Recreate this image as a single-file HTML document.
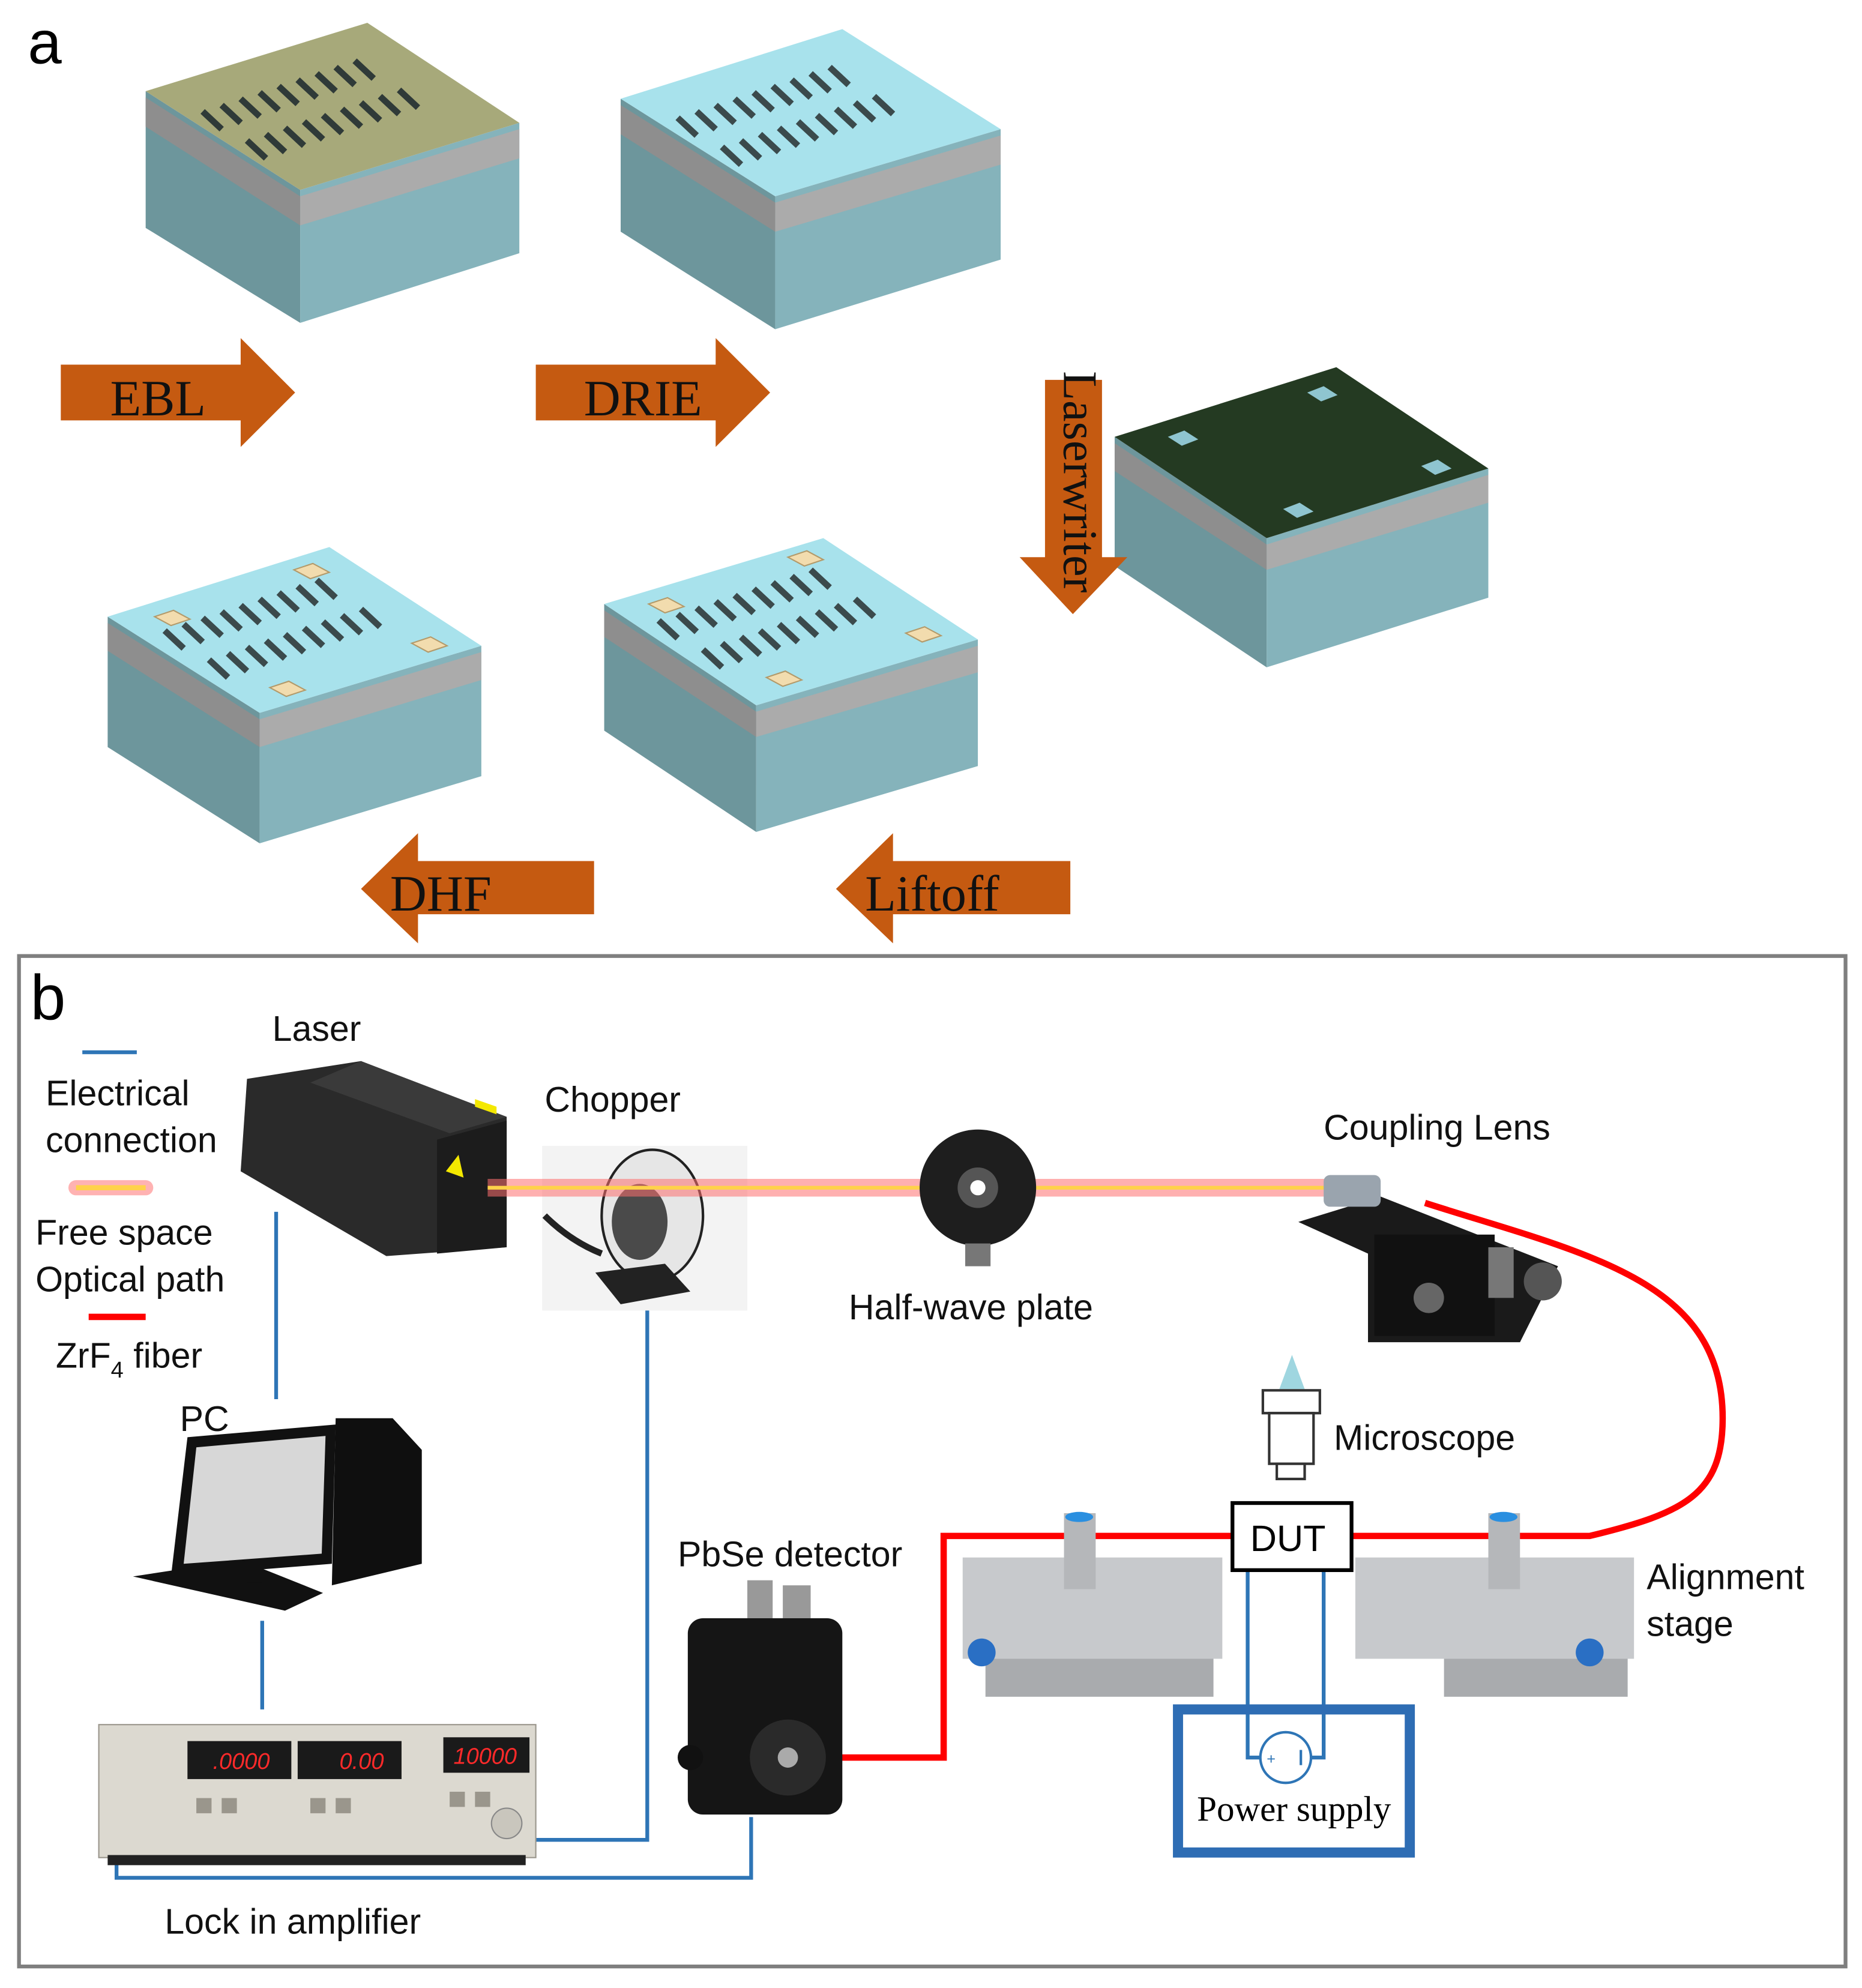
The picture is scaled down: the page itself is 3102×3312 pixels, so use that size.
<!DOCTYPE html>
<html><head><meta charset="utf-8"><style>
html,body{margin:0;padding:0;background:#fff}
svg{display:block}
text{font-family:"Liberation Sans",Arial,sans-serif}
.s{font-family:"Liberation Serif",serif}
</style></head><body>
<svg width="3102" height="3312" viewBox="0 0 1470 1570" preserveAspectRatio="none" xmlns="http://www.w3.org/2000/svg">
<rect width="1470" height="1570" fill="#fff"/>
<text x="22" y="50" font-size="48">a</text>

<!-- Block 1 -->
<g>
<polygon points="115,72 237,150 237,255 115,180" fill="#6d969c"/>
<polygon points="237,150 410,97 410,200 237,255" fill="#85b3bb"/>
<polygon points="115,77 237,155 237,178 115,100" fill="#8e8e8e"/>
<polygon points="237,155 410,102 410,125 237,178" fill="#ababab"/>
<polygon points="115,72 290,18 410,97 237,150" fill="#a7a97a"/>
<g stroke="#2f3a38" stroke-width="5">
<line x1="160" y1="88" x2="175" y2="102"/><line x1="175" y1="83" x2="190" y2="97"/><line x1="190" y1="78" x2="205" y2="92"/><line x1="205" y1="73" x2="220" y2="87"/><line x1="220" y1="68" x2="235" y2="82"/><line x1="235" y1="63" x2="250" y2="77"/><line x1="250" y1="58" x2="265" y2="72"/><line x1="265" y1="53" x2="280" y2="67"/><line x1="280" y1="48" x2="295" y2="62"/>
<line x1="195" y1="111" x2="210" y2="125"/><line x1="210" y1="106" x2="225" y2="120"/><line x1="225" y1="101" x2="240" y2="115"/><line x1="240" y1="96" x2="255" y2="110"/><line x1="255" y1="91" x2="270" y2="105"/><line x1="270" y1="86" x2="285" y2="100"/><line x1="285" y1="81" x2="300" y2="95"/><line x1="300" y1="76" x2="315" y2="90"/><line x1="315" y1="71" x2="330" y2="85"/>
</g>
</g>
<!-- Block 2 -->
<g>
<polygon points="490,78 612,155 612,260 490,183" fill="#6d969c"/>
<polygon points="612,155 790,102 790,205 612,260" fill="#85b3bb"/>
<polygon points="490,83 612,160 612,183 490,106" fill="#8e8e8e"/>
<polygon points="612,160 790,107 790,130 612,183" fill="#ababab"/>
<polygon points="490,78 665,23 790,102 612,155" fill="#a8e2ec"/>
<g stroke="#3b4a4c" stroke-width="5">
<line x1="535" y1="93" x2="550" y2="107"/><line x1="550" y1="88" x2="565" y2="102"/><line x1="565" y1="83" x2="580" y2="97"/><line x1="580" y1="78" x2="595" y2="92"/><line x1="595" y1="73" x2="610" y2="87"/><line x1="610" y1="68" x2="625" y2="82"/><line x1="625" y1="63" x2="640" y2="77"/><line x1="640" y1="58" x2="655" y2="72"/><line x1="655" y1="53" x2="670" y2="67"/>
<line x1="570" y1="116" x2="585" y2="130"/><line x1="585" y1="111" x2="600" y2="125"/><line x1="600" y1="106" x2="615" y2="120"/><line x1="615" y1="101" x2="630" y2="115"/><line x1="630" y1="96" x2="645" y2="110"/><line x1="645" y1="91" x2="660" y2="105"/><line x1="660" y1="86" x2="675" y2="100"/><line x1="675" y1="81" x2="690" y2="95"/><line x1="690" y1="76" x2="705" y2="90"/>
</g>
</g>
<!-- Block 3 -->
<g>
<polygon points="880,345 1000,425 1000,527 880,447" fill="#6d969c"/>
<polygon points="1000,425 1175,370 1175,472 1000,527" fill="#85b3bb"/>
<polygon points="880,350 1000,430 1000,450 880,372" fill="#8e8e8e"/>
<polygon points="1000,430 1175,375 1175,397 1000,450" fill="#ababab"/>
<polygon points="880,345 1055,290 1175,370 1000,425" fill="#243a22"/>
<g fill="#8fc5d0"><polygon points="922,345 935,340 946,347 933,352"/><polygon points="1032,310 1045,305 1056,312 1043,317"/><polygon points="1122,368 1135,363 1146,370 1133,375"/><polygon points="1013,402 1026,397 1037,404 1024,409"/></g>
</g>
<!-- Block 4 -->
<g>
<polygon points="85,487 205,563 205,666 85,590" fill="#6d969c"/>
<polygon points="205,563 380,510 380,613 205,666" fill="#85b3bb"/>
<polygon points="85,492 205,568 205,590 85,514" fill="#8e8e8e"/>
<polygon points="205,568 380,515 380,537 205,590" fill="#ababab"/>
<polygon points="85,487 260,432 380,510 205,563" fill="#a8e2ec"/>
<g stroke="#3b4a4c" stroke-width="5">
<line x1="130" y1="498" x2="145" y2="512"/><line x1="145" y1="493" x2="160" y2="507"/><line x1="160" y1="488" x2="175" y2="502"/><line x1="175" y1="483" x2="190" y2="497"/><line x1="190" y1="478" x2="205" y2="492"/><line x1="205" y1="473" x2="220" y2="487"/><line x1="220" y1="468" x2="235" y2="482"/><line x1="235" y1="463" x2="250" y2="477"/><line x1="250" y1="458" x2="265" y2="472"/>
<line x1="165" y1="521" x2="180" y2="535"/><line x1="180" y1="516" x2="195" y2="530"/><line x1="195" y1="511" x2="210" y2="525"/><line x1="210" y1="506" x2="225" y2="520"/><line x1="225" y1="501" x2="240" y2="515"/><line x1="240" y1="496" x2="255" y2="510"/><line x1="255" y1="491" x2="270" y2="505"/><line x1="270" y1="486" x2="285" y2="500"/><line x1="285" y1="481" x2="300" y2="495"/>
</g>
<g fill="#f2dcae" stroke="#b39a6a"><polygon points="122,487 137,482 150,489 135,494"/><polygon points="232,450 247,445 260,452 245,457"/><polygon points="325,508 340,503 353,510 338,515"/><polygon points="213,543 228,538 241,545 226,550"/></g>
</g>
<!-- Block 5 -->
<g>
<polygon points="477,477 597,557 597,657 477,577" fill="#6d969c"/>
<polygon points="597,557 772,505 772,605 597,657" fill="#85b3bb"/>
<polygon points="477,482 597,562 597,582 477,503" fill="#8e8e8e"/>
<polygon points="597,562 772,510 772,531 597,582" fill="#ababab"/>
<polygon points="477,477 650,425 772,505 597,557" fill="#a8e2ec"/>
<g stroke="#3b4a4c" stroke-width="5">
<line x1="520" y1="490" x2="535" y2="504"/><line x1="535" y1="485" x2="550" y2="499"/><line x1="550" y1="480" x2="565" y2="494"/><line x1="565" y1="475" x2="580" y2="489"/><line x1="580" y1="470" x2="595" y2="484"/><line x1="595" y1="465" x2="610" y2="479"/><line x1="610" y1="460" x2="625" y2="474"/><line x1="625" y1="455" x2="640" y2="469"/><line x1="640" y1="450" x2="655" y2="464"/>
<line x1="555" y1="513" x2="570" y2="527"/><line x1="570" y1="508" x2="585" y2="522"/><line x1="585" y1="503" x2="600" y2="517"/><line x1="600" y1="498" x2="615" y2="512"/><line x1="615" y1="493" x2="630" y2="507"/><line x1="630" y1="488" x2="645" y2="502"/><line x1="645" y1="483" x2="660" y2="497"/><line x1="660" y1="478" x2="675" y2="492"/><line x1="675" y1="473" x2="690" y2="487"/>
</g>
<g fill="#f2dcae" stroke="#b39a6a"><polygon points="512,477 527,472 540,479 525,484"/><polygon points="622,440 637,435 650,442 635,447"/><polygon points="715,500 730,495 743,502 728,507"/><polygon points="605,535 620,530 633,537 618,542"/></g>
</g>

<!-- Arrows -->
<g fill="#c55a11">
<polygon points="48,288 190,288 190,267 233,310 190,353 190,332 48,332"/>
<polygon points="423,288 565,288 565,267 608,310 565,353 565,332 423,332"/>
<polygon points="825,300 870,300 870,440 890,440 847,485 805,440 825,440"/>
<polygon points="469,680 330,680 330,658 285,702 330,745 330,722 469,722"/>
<polygon points="845,680 705,680 705,658 660,702 705,745 705,722 845,722"/>
</g>
<g fill="#111">
<text x="87" y="328" class="s" font-size="40">EBL</text>
<text x="461" y="328" class="s" font-size="40">DRIE</text>
<text x="308" y="719" class="s" font-size="40">DHF</text>
<text x="683" y="719" class="s" font-size="40">Liftoff</text>
<text class="s" transform="translate(840,293) rotate(90)" font-size="38">Laserwriter</text>
</g>

<!-- Panel b -->
<rect x="15" y="755" width="1442" height="798" fill="none" stroke="#7f7f7f" stroke-width="3"/>
<text x="24" y="805" font-size="50">b</text>
<g font-size="28" fill="#111">
<text x="215" y="822">Laser</text>
<text x="36" y="873">Electrical</text>
<text x="36" y="910">connection</text>
<text x="28" y="983">Free space</text>
<text x="28" y="1020">Optical path</text>
<text x="44" y="1080">ZrF<tspan font-size="18" dy="8">4</tspan><tspan dy="-8"> fiber</tspan></text>
<text x="142" y="1130">PC</text>
<text x="430" y="878">Chopper</text>
<text x="1045" y="900">Coupling Lens</text>
<text x="670" y="1042">Half-wave plate</text>
<text x="1053" y="1145">Microscope</text>
<text x="535" y="1237">PbSe detector</text>
<text x="1300" y="1255">Alignment</text>
<text x="1300" y="1292">stage</text>
<text x="130" y="1527">Lock in amplifier</text>
</g>
<!-- legend -->
<line x1="65" y1="831" x2="108" y2="831" stroke="#2e75b6" stroke-width="3"/>
<line x1="60" y1="938" x2="115" y2="938" stroke="#ff8080" stroke-width="12" stroke-linecap="round" opacity="0.6"/>
<line x1="60" y1="938" x2="115" y2="938" stroke="#ffd24a" stroke-width="4"/>
<line x1="70" y1="1040" x2="115" y2="1040" stroke="#ff0000" stroke-width="5"/>

<!-- blue wires -->
<g stroke="#2e75b6" stroke-width="3" fill="none">
<line x1="218" y1="957" x2="218" y2="1105"/>
<line x1="207" y1="1280" x2="207" y2="1350"/>
<polyline points="511,1008 511,1453 365,1453"/>
<polyline points="593,1435 593,1483 92,1483 92,1458"/>
<polyline points="985,1240 985,1388 998,1388"/>
<polyline points="1045,1240 1045,1388 1033,1388"/>
</g>

<!-- chopper -->
<rect x="428" y="905" width="162" height="130" fill="#f3f3f3"/>
<ellipse cx="515" cy="960" rx="40" ry="52" fill="#e6e6e6" stroke="#222" stroke-width="2"/>
<ellipse cx="505" cy="965" rx="22" ry="30" fill="#4a4a4a"/>
<polygon points="470,1005 525,998 545,1020 490,1030" fill="#222"/>
<path d="M430,960 q20,20 45,30" stroke="#222" stroke-width="5" fill="none"/>

<!-- laser -->
<polygon points="195,852 285,838 400,882 400,985 305,992 190,925" fill="#2a2a2a"/>
<polygon points="285,838 400,882 355,895 245,855" fill="#3a3a3a"/>
<polygon points="345,900 400,885 400,985 345,990" fill="#1c1c1c"/>
<polygon points="352,925 362,912 366,930" fill="#f4e800"/>
<polygon points="375,868 392,874 392,880 375,874" fill="#f4e800"/>

<!-- beam -->
<line x1="385" y1="938" x2="1048" y2="938" stroke="#ff7070" stroke-width="14" opacity="0.55"/>
<line x1="385" y1="938" x2="1048" y2="938" stroke="#ffd24a" stroke-width="3"/>

<!-- half-wave plate -->
<circle cx="772" cy="938" r="46" fill="#1e1e1e"/>
<circle cx="772" cy="938" r="16" fill="#555"/>
<circle cx="772" cy="938" r="6" fill="#fff"/>
<rect x="762" y="982" width="20" height="18" fill="#777"/>

<!-- coupling lens -->
<polygon points="1025,965 1090,945 1230,1000 1200,1060 1080,1060 1080,990" fill="#1a1a1a"/>
<rect x="1045" y="928" width="45" height="25" rx="5" fill="#9aa4ae"/>
<rect x="1085" y="975" width="95" height="80" fill="#111"/>
<circle cx="1218" cy="1012" r="15" fill="#555"/>
<circle cx="1128" cy="1025" r="12" fill="#666"/>
<rect x="1175" y="985" width="20" height="40" fill="#777"/>

<!-- microscope -->
<polygon points="1020,1070 1030,1097 1010,1097" fill="#9fd6e0"/>
<rect x="997" y="1098" width="45" height="18" fill="#fff" stroke="#333" stroke-width="2"/>
<rect x="1002" y="1116" width="35" height="40" fill="#fff" stroke="#333" stroke-width="2"/>
<rect x="1008" y="1156" width="22" height="12" fill="#fff" stroke="#333" stroke-width="2"/>

<!-- fiber -->
<g stroke="#ff0000" stroke-width="5" fill="none">
<path d="M1125,950 C1250,990 1360,1010 1360,1120 C1360,1180 1330,1195 1255,1213 L1068,1213"/>
<polyline points="973,1213 745,1213 745,1388 622,1388"/>
</g>

<!-- alignment stages -->
<g fill="#c7c9cc">
<rect x="760" y="1230" width="205" height="80"/>
<rect x="778" y="1310" width="180" height="30" fill="#a9abae"/>
<rect x="840" y="1195" width="25" height="60" fill="#b5b7ba"/>
<rect x="1070" y="1230" width="220" height="80"/>
<rect x="1140" y="1310" width="145" height="30" fill="#a9abae"/>
<rect x="1175" y="1195" width="25" height="60" fill="#b5b7ba"/>
</g>
<circle cx="775" cy="1305" r="11" fill="#2a6fc4"/>
<circle cx="1255" cy="1305" r="11" fill="#2a6fc4"/>
<ellipse cx="852" cy="1198" rx="11" ry="4" fill="#2a8fe0"/>
<ellipse cx="1187" cy="1198" rx="11" ry="4" fill="#2a8fe0"/>

<!-- DUT -->
<rect x="973" y="1187" width="94" height="53" fill="#fff" stroke="#000" stroke-width="3"/>
<text x="987" y="1225" font-size="29">DUT</text>

<!-- power supply -->
<rect x="930" y="1350" width="183" height="113" fill="none" stroke="#2e6db4" stroke-width="8"/>
<circle cx="1015" cy="1388" r="20" fill="#fff" stroke="#2e75b6" stroke-width="2"/>
<text x="1000" y="1393" font-size="12" fill="#2e75b6">+</text>
<line x1="1027" y1="1382" x2="1027" y2="1394" stroke="#2e75b6" stroke-width="2"/>
<text x="945" y="1438" font-size="28" class="s">Power supply</text>

<!-- PbSe detector -->
<rect x="590" y="1248" width="20" height="35" fill="#999"/>
<rect x="618" y="1252" width="22" height="30" fill="#999"/>
<rect x="543" y="1278" width="122" height="155" rx="12" fill="#151515"/>
<circle cx="622" cy="1388" r="30" fill="#2a2a2a"/>
<circle cx="622" cy="1388" r="8" fill="#aaa"/>
<circle cx="545" cy="1388" r="10" fill="#111"/>

<!-- PC -->
<polygon points="148,1135 265,1125 262,1235 135,1245" fill="#111"/>
<polygon points="155,1143 257,1134 254,1227 145,1235" fill="#d7d7d7"/>
<polygon points="265,1120 310,1120 333,1145 333,1235 262,1252" fill="#0f0f0f"/>
<polygon points="105,1245 190,1232 255,1258 225,1272" fill="#111"/>
<rect x="195" y="1232" width="12" height="18" fill="#111"/>

<!-- Lock-in amplifier -->
<rect x="78" y="1362" width="345" height="105" fill="#dcd9d0" stroke="#9a968c"/>
<rect x="85" y="1465" width="330" height="8" fill="#222"/>
<rect x="148" y="1375" width="82" height="30" fill="#1a1a1a"/>
<rect x="235" y="1375" width="82" height="30" fill="#1a1a1a"/>
<rect x="350" y="1372" width="68" height="28" fill="#1a1a1a"/>
<g fill="#ff2a2a" font-size="18" font-style="italic"><text x="168" y="1397">.0000</text><text x="268" y="1397">0.00</text><text x="358" y="1393">10000</text></g>
<g fill="#9a968c"><rect x="155" y="1420" width="12" height="12"/><rect x="175" y="1420" width="12" height="12"/><rect x="245" y="1420" width="12" height="12"/><rect x="265" y="1420" width="12" height="12"/><rect x="355" y="1415" width="12" height="12"/><rect x="375" y="1415" width="12" height="12"/></g>
<circle cx="400" cy="1440" r="12" fill="#c9c6bd" stroke="#888"/>
</svg>
</body></html>
